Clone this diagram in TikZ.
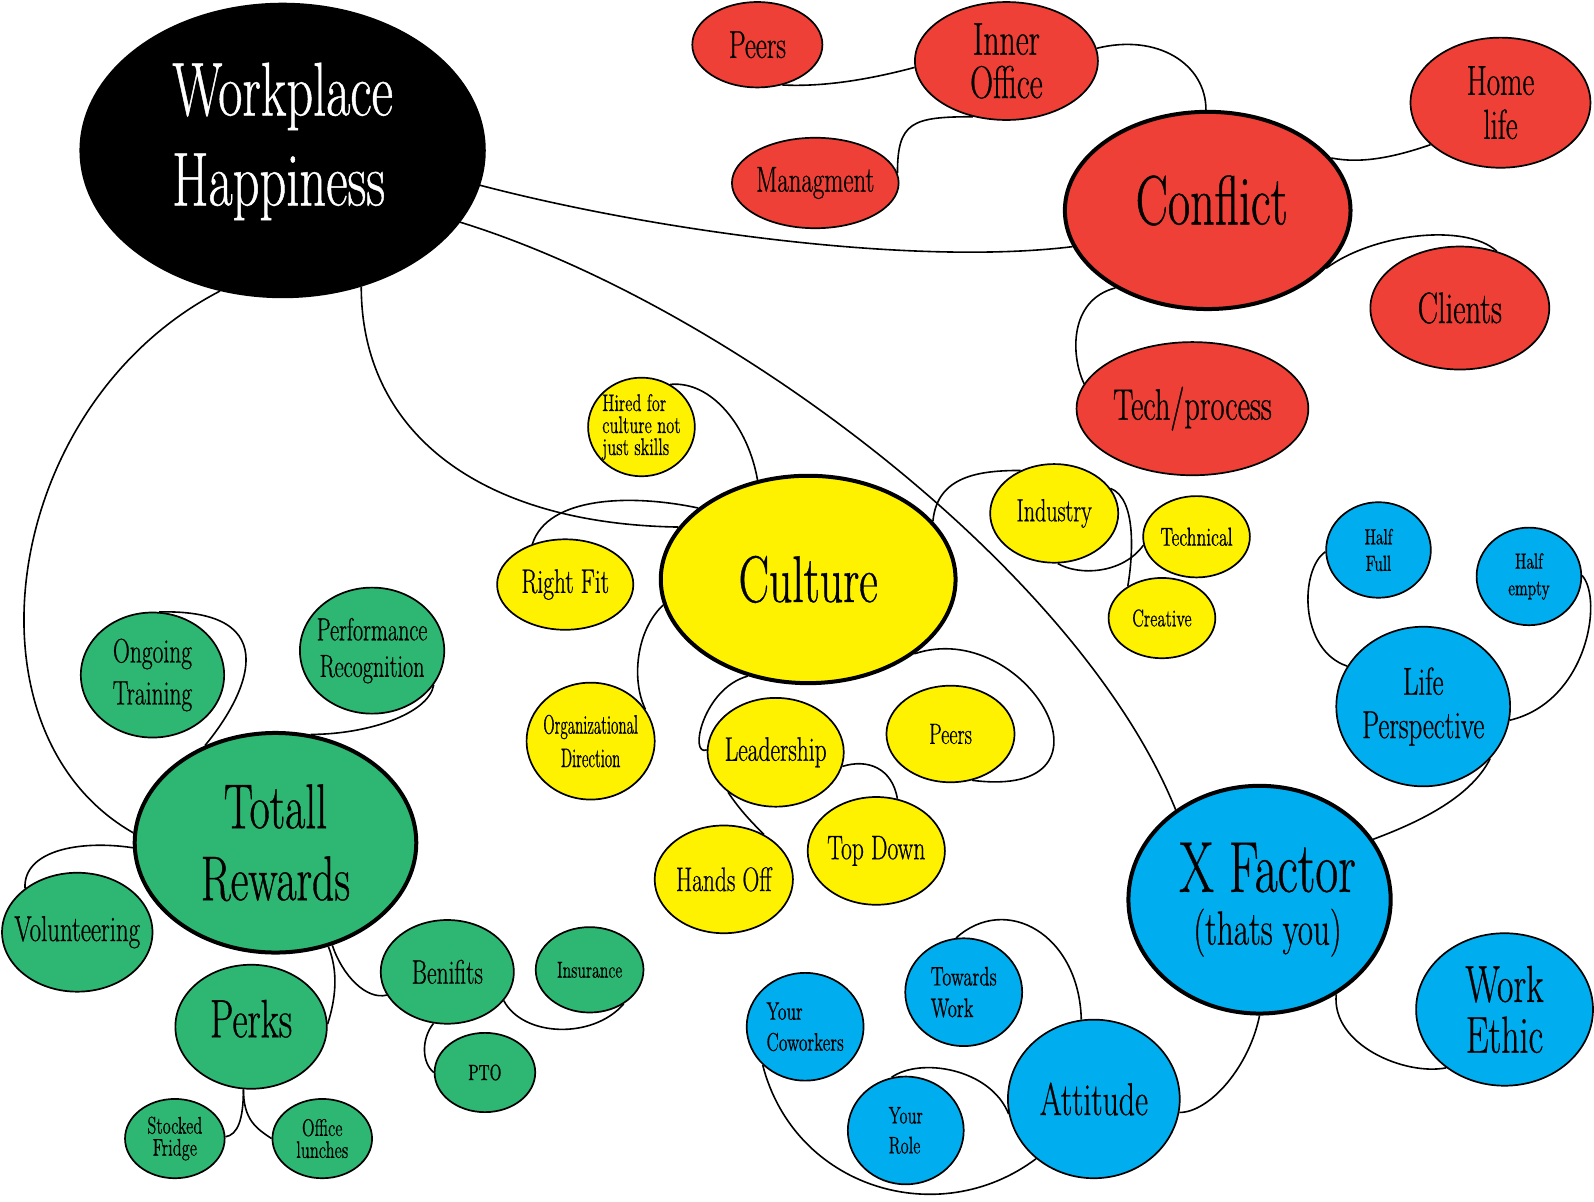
\documentclass[tikz,border=0pt]{standalone}
\usepackage{fontspec}
\setmainfont{Latin Modern Roman}[FakeStretch=0.69, FakeBold=0.6]
\newfontfamily\narrowfont{Latin Modern Roman}[FakeStretch=0.56, FakeBold=0.6]
\usepackage{tikz}
\usetikzlibrary{shapes.geometric, backgrounds}
\definecolor{MapRed}{HTML}{EE4036}
\definecolor{MapYellow}{HTML}{FFF200}
\definecolor{MapGreen}{HTML}{2EB673}
\definecolor{MapBlue}{HTML}{00AEEF}
\tikzset{
  blob/.style={ellipse, draw=black, line width=0.85pt, inner sep=0pt},
  bigblob/.style={blob, line width=2pt},
  dims/.style 2 args={minimum width=#1*0.5083pt, minimum height=#2*0.5083pt},
  txt/.style 2 args={align=center, font=\fontsize{#1}{#2}\selectfont},
  link/.style={line width=0.8pt, black},
}

\begin{document}
\begin{tikzpicture}[x=0.5083pt, y=-0.5083pt]
        \useasboundingbox (0,0) rectangle (1568,1182);

        % --- centre ---
        \node [blob, fill=black, dims={398}{289}, label={[txt={38}{45}, align=left, text=white, yshift=4.5pt]center:Workplace\\Happiness}] (wh) at (278,148) {};

        % --- conflict ---
        \node [blob, fill=MapRed, dims={128}{84}, label={[txt={19.5}{22}]center:Peers}] (peersA) at (745,44) {};
        \node [blob, fill=MapRed, dims={180}{116}, label={[txt={23}{21.7}]center:Inner\\Office}] (inner) at (990,60) {};
        \node [blob, fill=MapRed, dims={164}{89}, label={[txt={18}{20}]center:Managment}] (mgmt) at (802,180) {};
        \node [blob, fill=MapRed, dims={177}{128}, label={[txt={21}{22}]center:Home\\life}] (home) at (1476,101) {};
        \node [bigblob, fill=MapRed, dims={281}{194}, label={[txt={35}{40}, xshift=2pt, yshift=5pt]center:Conflict}] (conflict) at (1188,207) {};
        \node [blob, fill=MapRed, dims={176}{121}, label={[txt={22}{24}]center:Clients}] (clients) at (1436,303) {};
        \node [blob, fill=MapRed, dims={228}{131}, label={[txt={22}{24}]center:Tech/process}] (tech) at (1173,402) {};

        % --- culture ---
        \node [blob, fill=MapYellow, dims={105}{97}, label={[txt={12}{11}, align=left]center:Hired for\\culture not\\just skills}] (hired) at (631,420) {};
        \node [bigblob, fill=MapYellow, dims={290}{204}, label={[txt={33}{36}]center:Culture}] (culture) at (795,570) {};
        \node [blob, fill=MapYellow, dims={126}{97}, label={[txt={16}{18}]center:Industry}] (industry) at (1037,505) {};
        \node [blob, fill=MapYellow, dims={105}{80}, label={[txt={13}{15}]center:Technical}] (technical) at (1177,528) {};
        \node [blob, fill=MapYellow, dims={105}{79}, label={[txt={12}{14}]center:Creative}] (creative) at (1143,608) {};
        \node [blob, fill=MapYellow, dims={134}{89}, label={[txt={17}{19}]center:Right Fit}] (fit) at (556,575) {};
        \node [blob, fill=MapYellow, dims={126}{115}, label={[txt={13.4}{16.7}, font=\narrowfont\fontsize{13.4}{16.7}\selectfont]center:Organizational\\Direction}] (orgdir) at (581,729) {};
        \node [blob, fill=MapYellow, dims={134}{107}, label={[txt={17}{19}]center:Leadership}] (leader) at (763,740) {};
        \node [blob, fill=MapYellow, dims={126}{95}, label={[txt={14.6}{16}]center:Peers}] (peersB) at (935,722) {};
        \node [blob, fill=MapYellow, dims={135}{106}, label={[txt={17}{19}]center:Top Down}] (topdown) at (862,837) {};
        \node [blob, fill=MapYellow, dims={136}{106}, label={[txt={17}{19}]center:Hands Off}] (handsoff) at (712,865) {};

        % --- x factor ---
        \node [blob, fill=MapBlue, dims={103}{94}, label={[txt={11}{13.3}]center:Half\\Full}] (halffull) at (1356,541) {};
        \node [blob, fill=MapBlue, dims={103}{96}, label={[txt={11}{13.3}]center:Half\\empty}] (halfempty) at (1504,567) {};
        \node [blob, fill=MapBlue, dims={171}{157}, label={[txt={19.5}{21.7}]center:Life\\Perspective}] (life) at (1400,695) {};
        \node [bigblob, fill=MapBlue, dims={258}{224}, label={[txt={24}{26.4}, xshift=4pt]center:{\fontsize{36}{26.4}\selectfont X Factor}\\(thats you)}] (xfactor) at (1239,885) {};
        \node [blob, fill=MapBlue, dims={174}{150}, label={[txt={26}{25.4}]center:Work\\Ethic}] (workethic) at (1480,993) {};
        \node [blob, fill=MapBlue, dims={115}{106}, label={[txt={13.4}{15.8}, align=left]center:Towards\\Work}] (towards) at (948,976) {};
        \node [blob, fill=MapBlue, dims={115}{106}, label={[txt={12.7}{15.5}, align=left]center:Your\\Coworkers}] (coworkers) at (792,1010) {};
        \node [blob, fill=MapBlue, dims={114}{106}, label={[txt={12}{15}, align=left]center:Your\\Role}] (role) at (891,1112) {};
        \node [blob, fill=MapBlue, dims={169}{156}, label={[txt={23}{25}]center:Attitude}] (attitude) at (1076,1081) {};

        % --- total rewards ---
        \node [blob, fill=MapGreen, dims={141}{123}, label={[txt={17}{21}]center:Ongoing\\Training}] (training) at (150,664) {};
        \node [blob, fill=MapGreen, dims={142}{124}, label={[txt={16}{18.3}]center:Performance\\Recognition}] (perf) at (366,640) {};
        \node [bigblob, fill=MapGreen, dims={277}{216}, label={[txt={31.7}{36}]center:Totall\\Rewards}] (rewards) at (271,829) {};
        \node [blob, fill=MapGreen, dims={148}{117}, label={[txt={18}{20}]center:Volunteering}] (volunteer) at (76,917) {};
        \node [blob, fill=MapGreen, dims={131}{102}, label={[txt={17}{19}]center:Benifits}] (benefits) at (440,956) {};
        \node [blob, fill=MapGreen, dims={106}{84}, label={[txt={11.5}{13}]center:Insurance}] (insurance) at (580,954) {};
        \node [blob, fill=MapGreen, dims={149}{122}, label={[txt={27}{30}, yshift=4pt]center:Perks}] (perks) at (247,1010) {};
        \node [blob, fill=MapGreen, dims={99}{78}, label={[txt={11}{13}]center:PTO}] (pto) at (477,1055) {};
        \node [blob, fill=MapGreen, dims={98}{78}, label={[txt={12}{11}]center:Stocked\\Fridge}] (fridge) at (172,1120) {};
        \node [blob, fill=MapGreen, dims={98}{78}, label={[txt={12}{11}]center:Office\\lunches}] (lunches) at (317,1120) {};

        % Connect branches
        \begin{scope}[on background layer]
            \draw [link] (wh.-10) .. controls +(176,46) and +(-154,19) .. (conflict.195);
            \draw [link] (wh.-60) .. controls +(0,143) and +(-196,-3) .. (culture.158);
            \draw [link] (wh.-114) .. controls +(-216,112) and +(-174,-99) .. (rewards.176);
            \draw [link] (wh.-22) .. controls +(265,82) and +(-95,-235) .. (xfactor.133);

            \draw [link] (inner.184) .. controls +(-45,12) and +(40,2) .. (peersA.-58);
            \draw [link] (inner.-121) .. controls +(-60,0) and +(0,-50) .. (mgmt.7);
            \draw [link] (inner.8) .. controls +(60,-15) and +(0,-45) .. (conflict.91);
            \draw [link] (conflict.23) .. controls +(30,6) and +(-35,12) .. (home.211);
            \draw [link] (conflict.-26) .. controls +(46,-34) and +(-31,-28) .. (clients.57);
            \draw [link] (conflict.220) .. controls +(-46,12) and +(-13,-27) .. (tech.167);

            \draw [link] (culture.117) .. controls +(-9,-52) and +(41,-4) .. (hired.56);
            \draw [link] (culture.147) .. controls +(-66,-14) and +(15,-47) .. (fit.129);
            \draw [link] (culture.190) .. controls +(-27,25) and +(-14,-28) .. (orgdir.30);
            \draw [link] (culture.238) .. controls +(-44,12) and +(-18,7) .. (leader.178);
            \draw [link] (culture.-35) .. controls +(110,-37) and +(158,20) .. (peersB.-65);
            \draw [link] (culture.25) .. controls +(4,-45) and +(-40,0) .. (industry.128);
            \draw [link] (industry.24) .. controls +(26,10) and +(5,-30) .. (creative.137);
            \draw [link] (industry.-86) .. controls +(20,12) and +(-21,29) .. (technical.189);
            \draw [link] (leader.220) .. controls +(12,18) and +(-12,-12) .. (handsoff.48);
            \draw [link] (leader.-12) .. controls +(25,-8) and +(-5,-30) .. (topdown.68);

            \draw [link] (life.152) .. controls +(-48,-16) and +(-25,17) .. (halffull.182);
            \draw [link] (life.-9) .. controls +(76,-18) and +(21,24) .. (halfempty.1);
            \draw [link] (life.-38) .. controls +(-20,40) and +(40,-15) .. (xfactor.28);
            \draw [link] (xfactor.-51) .. controls +(-5,50) and +(-40,8) .. (workethic.225);
            \draw [link] (xfactor.-90) .. controls +(-10,50) and +(30,0) .. (attitude.-9);
            \draw [link] (attitude.99) .. controls +(-2,-84) and +(49,-44) .. (towards.98);
            \draw [link] (attitude.190) .. controls +(-18,-45) and +(28,-20) .. (role.105);
            \draw [link] (attitude.226) .. controls +(-96,72) and +(31,121) .. (coworkers.222);

            \draw [link] (rewards.126) .. controls +(40,-48) and +(128,-3) .. (training.84);
            \draw [link] (rewards.72) .. controls +(55,0) and +(-5,29) .. (perf.-29);
            \draw [link] (rewards.182) .. controls +(-53,-8) and +(-2,-37) .. (volunteer.140);
            \draw [link] (rewards.-61) .. controls +(10,30) and +(-20,5) .. (benefits.201);
            \draw [link] (rewards.-63) .. controls +(10,25) and +(8,-25) .. (perks.2);
            \draw [link] (benefits.-27) .. controls +(19,36) and +(-30,35) .. (insurance.-45);
            \draw [link] (benefits.255) .. controls +(-12,15) and +(-12,-10) .. (pto.180);
            \draw [link] (perks.-97) .. controls +(0,30) and +(12,-2) .. (fridge.2);
            \draw [link] (perks.-97) .. controls +(0,30) and +(-15,-10) .. (lunches.180);
        \end{scope}
    \end{tikzpicture}
\end{document}
